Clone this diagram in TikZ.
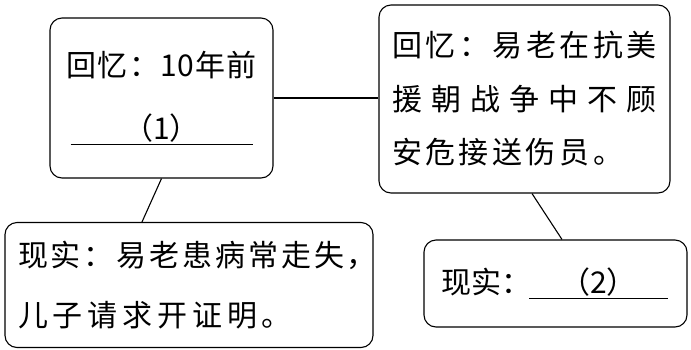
\documentclass[tikz,border=0pt]{standalone}
\usepackage{fontspec}
\newfontfamily\cjk{Noto Sans CJK SC}

% spread the characters of a line over a given width
\def\spreadstop{\spreadstop}
\def\spreadstopm{\spreadstop}
\newcommand\spreadline[2]{\makebox[#1][s]{\spreadfirst#2\spreadstop}}
\def\spreadfirst#1{#1\spreadnext}
\def\spreadnext#1{\def\spreadtmp{#1}\ifx\spreadtmp\spreadstopm\else\hfil#1\expandafter\spreadnext\fi}

\begin{document}
\begin{tikzpicture}[x=1pt, y=-1pt,
    box/.style={draw, line width=1.1pt, rounded corners=12pt, inner ysep=0pt}]
    \useasboundingbox (0,0) rectangle (691,349);

    \node[box, align=center, text width=203pt, inner xsep=10pt, minimum height=160pt, font=\cjk\fontsize{30}{63}\selectfont] (recall1) at (161.5, 98)
        {\spreadline{190pt}{回忆：{10}年前}\\ \underline{\makebox[182pt]{（1）}}};
    \node[box, align=left, text width=265pt, inner xsep=13pt, minimum height=188pt, font=\cjk\fontsize{30}{53.5}\selectfont] (recall2) at (524.5, 99)
        {\spreadline{265pt}{回忆：易老在抗美}\\ \spreadline{265pt}{援朝战争中不顾}\\ \spreadline{231pt}{安危接送伤员。}};
    \node[box, align=left, text width=342pt, inner xsep=13pt, minimum height=125pt, font=\cjk\fontsize{30}{60}\selectfont] (real1) at (189, 285)
        {\spreadline{359pt}{现实：易老患病常走失，}\\ \spreadline{274pt}{儿子请求开证明。}};
    \node[box, align=left, text width=229pt, inner xsep=17pt, minimum height=87pt, font=\cjk\fontsize{30}{60}\selectfont] (real2) at (555.5, 283.5)
        {\spreadline{88pt}{现实：}\underline{\makebox[139pt]{（2）}}};

    \draw[line width=1.1pt] (recall1.east) -- (recall1.east -| recall2.west);
    \draw[line width=1.1pt] (recall1.south) -- ([xshift=-47pt]real1.north);
    \draw[line width=1.1pt] ([xshift=7.5pt]recall2.south) -- ([xshift=6.5pt]real2.north);
\end{tikzpicture}
\end{document}
